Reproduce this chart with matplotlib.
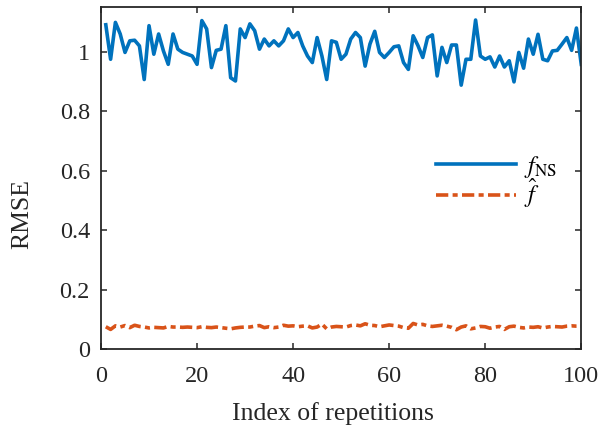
import matplotlib
matplotlib.use("Agg")
import matplotlib.pyplot as plt

# data
reps = list(range(1, 101))
rmse_ns = [1.090, 0.974, 1.098, 1.059, 0.997, 1.036, 1.038, 1.019, 0.906, 1.087,
           0.991, 1.059, 1.002, 0.957, 1.059, 1.008, 0.997, 0.991, 0.985, 0.957,
           1.104, 1.076, 0.946, 1.004, 1.008, 1.087, 0.912, 0.901, 1.076, 1.047,
           1.093, 1.070, 1.008, 1.042, 1.019, 1.036, 1.019, 1.036, 1.076, 1.047,
           1.064, 1.019, 0.985, 0.963, 1.047, 0.985, 0.906, 1.036, 1.031, 0.974,
           0.991, 1.042, 1.064, 1.047, 0.951, 1.025, 1.068, 0.997, 0.980, 0.997,
           1.016, 1.019, 0.963, 0.940, 1.053, 1.020, 0.980, 1.047, 1.056, 0.918,
           1.014, 0.963, 1.022, 1.022, 0.887, 0.974, 0.974, 1.106, 0.985, 0.974,
           0.982, 0.948, 0.985, 0.948, 0.969, 0.898, 0.997, 0.944, 1.042, 0.991,
           1.058, 0.974, 0.969, 1.002, 1.004, 1.025, 1.047, 1.004, 1.079, 0.957]
rmse_hat = [0.075, 0.066, 0.078, 0.074, 0.079, 0.072, 0.080, 0.076, 0.074, 0.071,
            0.073, 0.072, 0.071, 0.076, 0.074, 0.074, 0.073, 0.074, 0.073, 0.072,
            0.075, 0.073, 0.072, 0.074, 0.072, 0.070, 0.068, 0.071, 0.073, 0.074,
            0.074, 0.077, 0.079, 0.072, 0.075, 0.072, 0.074, 0.080, 0.077, 0.078,
            0.075, 0.077, 0.078, 0.071, 0.074, 0.084, 0.068, 0.074, 0.076, 0.075,
            0.074, 0.079, 0.081, 0.078, 0.085, 0.080, 0.079, 0.075, 0.078, 0.081,
            0.079, 0.077, 0.072, 0.070, 0.086, 0.081, 0.083, 0.078, 0.076, 0.078,
            0.080, 0.077, 0.073, 0.065, 0.074, 0.078, 0.068, 0.071, 0.076, 0.075,
            0.070, 0.074, 0.076, 0.066, 0.075, 0.077, 0.073, 0.071, 0.074, 0.073,
            0.075, 0.071, 0.074, 0.076, 0.075, 0.074, 0.077, 0.078, 0.077, 0.077]
xticks = [0, 20, 40, 60, 80, 100]
yticks = [0, 0.2, 0.4, 0.6, 0.8, 1]
ytick_labels = ['0', '0.2', '0.4', '0.6', '0.8', '1']

plt.rcParams['font.family'] = 'serif'
plt.rcParams['font.serif'] = ['Liberation Serif', 'DejaVu Serif']
plt.rcParams['mathtext.fontset'] = 'stix'

fig = plt.figure(figsize=(6.11, 4.32), dpi=100)
ax = fig.add_axes([0.1653, 0.192, 0.786, 0.792])

ax.plot(reps, rmse_ns, color='#0072BD', lw=2.6, label=r'$f_{\mathrm{NS}}$')
ax.plot(reps, rmse_hat, color='#D95319', lw=2.6, dashes=(3.4, 1.2, 1.4, 1.2),
        label=r'$\hat{f}$')

ax.set_xlim(0, 100)
ax.set_ylim(0, 1.15)
ax.set_xticks(xticks)
ax.set_yticks(yticks)
ax.set_yticklabels(ytick_labels)
ax.tick_params(direction='in', length=4, width=1.1, top=True, right=True,
               labelsize=17.5, colors='#262626')
ax.tick_params(axis='x', pad=12)
ax.tick_params(axis='y', pad=8)
for s in ax.spines.values():
    s.set_linewidth(1.3)
    s.set_color('#262626')

ax.set_xlabel('Index of repetitions', fontsize=18.5, color='#262626')
ax.set_ylabel('RMSE', fontsize=18.5, color='#262626')
ax.xaxis.set_label_coords(0.484, -0.155)
ax.yaxis.set_label_coords(-0.142, 0.395)

ax.legend(loc='center left', bbox_to_anchor=(0.7136, 0.579),
          bbox_transform=fig.transFigure, frameon=False, fontsize=17.5,
          handlelength=3.3, handletextpad=0.3, labelspacing=-0.1,
          borderpad=0, borderaxespad=0)

fig.savefig('out.png', dpi=100)
